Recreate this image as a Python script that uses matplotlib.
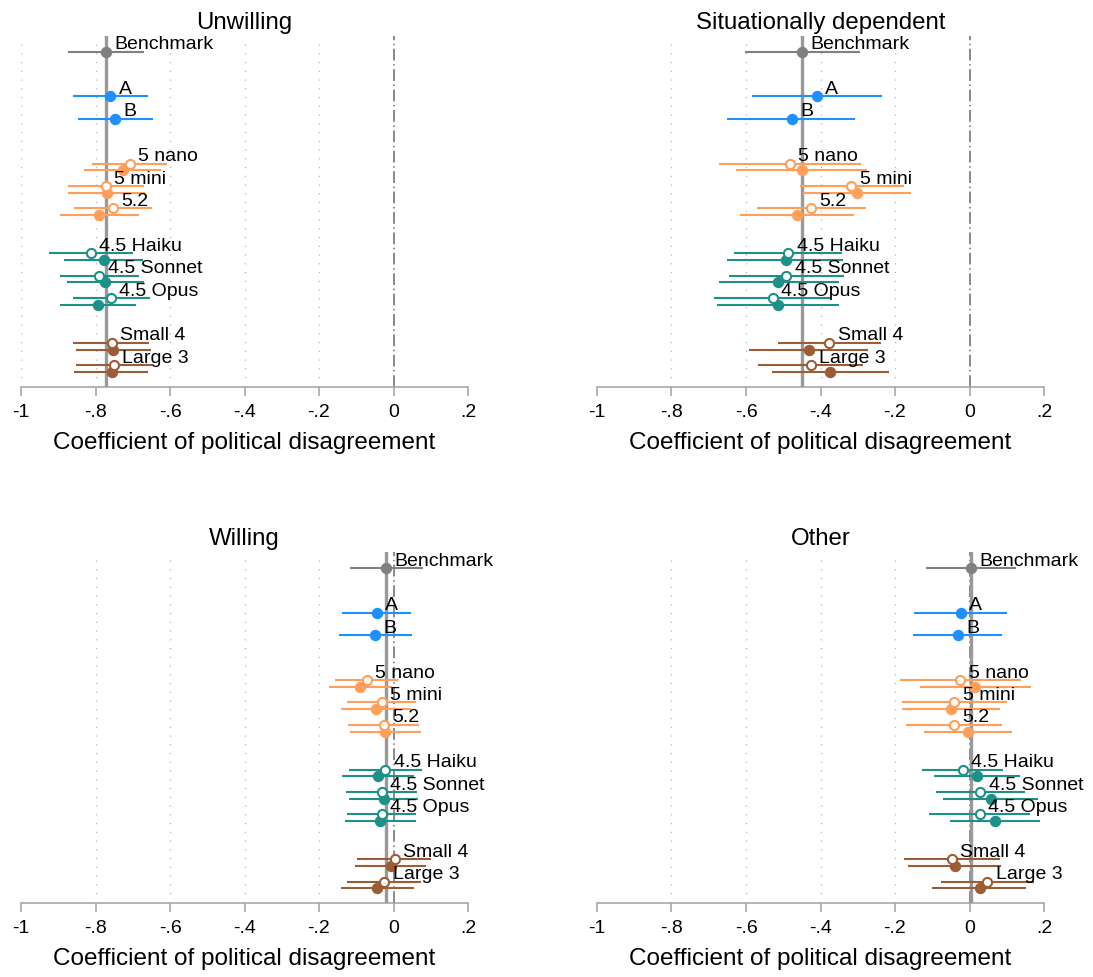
import numpy as np
import matplotlib
matplotlib.use("Agg")
import matplotlib.pyplot as plt

plt.rcParams['font.family'] = ['Liberation Sans', 'DejaVu Sans']

# model rows (labels), three families
models = ["5 nano", "5 mini", "5.2", "4.5 Haiku", "4.5 Sonnet", "4.5 Opus", "Small 4", "Large 3"]
model_groups = [3, 3, 2]
ab_labels = ["A", "B"]

panel_titles = ["Unwilling", "Situationally dependent", "Willing", "Other"]

# (estimate, lower, upper)
unwilling_bench = (-0.772, -0.875, -0.669)
unwilling_ab = [(-0.760, -0.861, -0.658), (-0.747, -0.848, -0.646)]
unwilling_hollow = [(-0.708, -0.809, -0.609), (-0.772, -0.873, -0.669), (-0.752, -0.858, -0.649),
                    (-0.813, -0.924, -0.700), (-0.790, -0.894, -0.684), (-0.758, -0.861, -0.655),
                    (-0.757, -0.861, -0.656), (-0.751, -0.853, -0.649)]
unwilling_filled = [(-0.725, -0.830, -0.623), (-0.770, -0.873, -0.667), (-0.790, -0.895, -0.684),
                    (-0.777, -0.885, -0.672), (-0.774, -0.876, -0.670), (-0.793, -0.895, -0.690),
                    (-0.752, -0.853, -0.652), (-0.756, -0.857, -0.658)]

situational_bench = (-0.450, -0.604, -0.295)
situational_ab = [(-0.410, -0.585, -0.236), (-0.477, -0.650, -0.307)]
situational_hollow = [(-0.482, -0.673, -0.291), (-0.317, -0.456, -0.175), (-0.425, -0.571, -0.277),
                      (-0.486, -0.631, -0.343), (-0.492, -0.646, -0.338), (-0.528, -0.686, -0.371),
                      (-0.376, -0.514, -0.238), (-0.426, -0.567, -0.285)]
situational_filled = [(-0.450, -0.626, -0.276), (-0.301, -0.446, -0.156), (-0.462, -0.615, -0.309),
                      (-0.493, -0.650, -0.339), (-0.513, -0.673, -0.351), (-0.513, -0.679, -0.349),
                      (-0.432, -0.592, -0.273), (-0.374, -0.529, -0.216)]

willing_bench = (-0.020, -0.117, 0.078)
willing_ab = [(-0.045, -0.139, 0.048), (-0.049, -0.147, 0.049)]
willing_hollow = [(-0.071, -0.157, 0.013), (-0.032, -0.126, 0.061), (-0.026, -0.123, 0.069),
                  (-0.022, -0.120, 0.077), (-0.032, -0.127, 0.064), (-0.031, -0.124, 0.061),
                  (0.003, -0.097, 0.102), (-0.025, -0.125, 0.074)]
willing_filled = [(-0.089, -0.173, -0.003), (-0.046, -0.140, 0.048), (-0.022, -0.118, 0.075),
                  (-0.041, -0.139, 0.055), (-0.026, -0.120, 0.066), (-0.036, -0.130, 0.060),
                  (-0.007, -0.103, 0.088), (-0.043, -0.142, 0.056)]

other_bench = (0.005, -0.116, 0.126)
other_ab = [(-0.023, -0.148, 0.102), (-0.030, -0.152, 0.088)]
other_hollow = [(-0.025, -0.186, 0.137), (-0.041, -0.180, 0.100), (-0.042, -0.170, 0.088),
                (-0.018, -0.127, 0.091), (0.029, -0.091, 0.149), (0.027, -0.108, 0.162),
                (-0.048, -0.177, 0.081), (0.048, -0.076, 0.172)]
other_filled = [(0.015, -0.134, 0.164), (-0.049, -0.182, 0.083), (-0.005, -0.123, 0.113),
                (0.020, -0.096, 0.136), (0.057, -0.071, 0.183), (0.068, -0.053, 0.189),
                (-0.040, -0.164, 0.084), (0.027, -0.101, 0.151)]

xticks = [-1, -0.8, -0.6, -0.4, -0.2, 0, 0.2]
xtick_labels = ["-1", "-.8", "-.6", "-.4", "-.2", "0", ".2"]

panels = [
    (unwilling_bench, unwilling_ab, unwilling_hollow, unwilling_filled),
    (situational_bench, situational_ab, situational_hollow, situational_filled),
    (willing_bench, willing_ab, willing_hollow, willing_filled),
    (other_bench, other_ab, other_hollow, other_filled),
]

group_colors = ["#ff9f5a", "#1d9088", "#9c5c36"]
bench_color = "#808080"
ab_color = "#1e90ff"

# row slots: benchmark, gap, A, B, gap, then model groups separated by gaps
slots = []
s = 5
colors = []
for g, n in enumerate(model_groups):
    for i in range(n):
        slots.append(s)
        colors.append(group_colors[g])
        s += 1
    s += 1
ab_slots = [2, 3]
shift = 0.3

W, H = 1093, 978
fig = plt.figure(figsize=(W / 100, H / 100), dpi=100)

boxes = [(21, 37, 387.7), (597, 37, 387.7), (21, 553.3, 904), (597, 553.3, 904)]
ax_w = 447

lw = 1.5
ms = 7.2
lab_kw = dict(textcoords="offset points", xytext=(6, 2.5), ha="left", va="baseline", fontsize=14)

for k, (bench, ab, hol, fil) in enumerate(panels):
    x0, top, bot = boxes[k]
    ax = fig.add_axes([x0 / W, 1 - bot / H, ax_w / W, (bot - top) / H])
    top_slot = -0.70
    bot_slot = top_slot + (bot - top) / 22.4
    ax.set_xlim(-1, 0.2)
    ax.set_ylim(bot_slot, top_slot)

    gx = [-1, -0.8, -0.6, -0.4, -0.2, 0.2] if k == 0 else [-0.8, -0.6, -0.4, -0.2, 0.2]
    for x in gx:
        ax.plot([x, x], [top_slot + 0.36, bot_slot - 0.33], color="#b0b0b0", lw=1.0,
                ls=(0, (0.8, 5.5)), zorder=0)
    ax.axvline(0, color="#808080", lw=1.3, ls=(0, (6.5, 2, 0.8, 2)), zorder=1)
    ax.axvline(bench[0], color="#999999", lw=2.4, zorder=1)

    # benchmark
    ax.plot([bench[1], bench[2]], [0, 0], color=bench_color, lw=lw, zorder=2, solid_capstyle="butt")
    ax.plot(bench[0], 0, "o", color=bench_color, ms=ms, zorder=3)
    ax.annotate("Benchmark", (bench[0], 0), **lab_kw)

    for lab, (e, lo, hi), y in zip(ab_labels, ab, ab_slots):
        ax.plot([lo, hi], [y, y], color=ab_color, lw=lw, zorder=2, solid_capstyle="butt")
        ax.plot(e, y, "o", color=ab_color, ms=ms, zorder=3)
        ax.annotate(lab, (e, y), **lab_kw)

    for lab, h, f, y, c in zip(models, hol, fil, slots, colors):
        ax.plot([h[1], h[2]], [y, y], color=c, lw=lw, zorder=2, solid_capstyle="butt")
        ax.plot([f[1], f[2]], [y + shift, y + shift], color=c, lw=lw, zorder=2, solid_capstyle="butt")
        ax.plot(f[0], y + shift, "o", color=c, ms=ms, zorder=3)
        ax.plot(h[0], y, "o", mfc="white", mec=c, mew=1.5, ms=ms - 0.6, zorder=4)
        ax.annotate(lab, (h[0], y), **lab_kw)

    for sp in ["left", "right", "top"]:
        ax.spines[sp].set_visible(False)
    ax.spines["bottom"].set_color("#a0a0a0")
    ax.spines["bottom"].set_linewidth(1.1)
    ax.set_yticks([])
    ax.set_xticks(xticks)
    ax.set_xticklabels(xtick_labels)
    ax.tick_params(axis="x", length=6.5, width=1.1, color="#a0a0a0", labelsize=14, pad=5)
    ax.set_xlabel("Coefficient of political disagreement", fontsize=17.5, labelpad=8)
    ax.set_title(panel_titles[k], fontsize=17.3, pad=6)
    ax.patch.set_alpha(0)

fig.savefig("out.png", dpi=100, facecolor="white")
